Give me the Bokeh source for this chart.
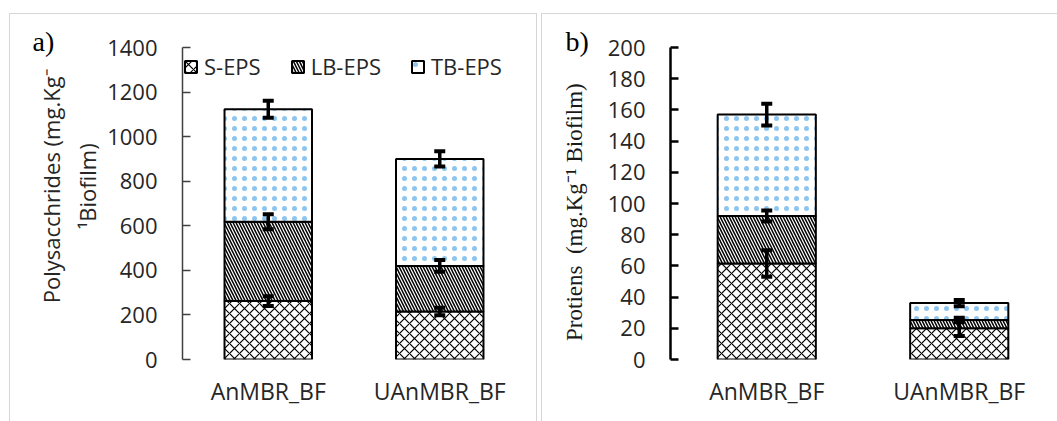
from bokeh.plotting import figure
from bokeh.layouts import row
from bokeh.models import (ColumnDataSource, Range1d, FactorRange, SingleIntervalTicker,
                          Whisker, TeeHead, Legend, LegendItem, Title)
from bokeh.embed import file_html
from bokeh.resources import INLINE

# ---------------- data ----------------
categories = ["AnMBR_BF", "UAnMBR_BF"]
series = ["S-EPS", "LB-EPS", "TB-EPS"]

# a) polysaccharides (stacked segments)
poly_s = [262, 215]
poly_lb = [356, 205]
poly_tb = [505, 480]
poly_s_err = [22, 17]
poly_lb_err = [34, 26]
poly_tb_err = [38, 34]
poly_ticks = [0, 200, 400, 600, 800, 1000, 1200, 1400]

# b) proteins (stacked segments)
prot_s = [61.5, 20]
prot_lb = [30.5, 5.3]
prot_tb = [65, 10.9]
prot_s_err = [8.5, 5]
prot_lb_err = [3.5, 1.5]
prot_tb_err = [7, 2]
prot_ticks = [0, 20, 40, 60, 80, 100, 120, 140, 160, 180, 200]

SANS = "Open Sans"
SERIF = "Liberation Serif"
TXT = "#262626"
NB = "\u00a0"

HATCH = ["x", "\\", "."]
HATCH_COLOR = ["black", "black", "#2f95e0"]
HATCH_SCALE = [10, 6, 10]
HATCH_WEIGHT = [1.2, 1.5, 0.8]
HATCH_ALPHA = [1.0, 1.0, 0.55]


def make_panel(s, lb, tb, es, elb, etb, ticks, width, height, border_left, border_right,
               border_top, bar_w, axis_color, axis_w):
    p = figure(x_range=FactorRange(*categories), y_range=Range1d(ticks[0], ticks[-1]),
               width=width, height=height, output_backend="svg", toolbar_location=None,
               min_border_left=border_left, min_border_right=border_right,
               min_border_top=border_top, min_border_bottom=62)
    p.border_fill_color = None
    p.background_fill_color = "white"
    p.outline_line_color = None
    p.grid.visible = False

    src = ColumnDataSource(dict(cat=categories, **{series[0]: s, series[1]: lb, series[2]: tb}))
    rs = p.vbar_stack(series, x="cat", width=bar_w, source=src, fill_color="white",
                      line_color="black", line_width=2,
                      hatch_pattern=HATCH, hatch_color=HATCH_COLOR,
                      hatch_scale=HATCH_SCALE, hatch_weight=HATCH_WEIGHT,
                      hatch_alpha=HATCH_ALPHA)

    top1 = list(s)
    top2 = [a + b for a, b in zip(s, lb)]
    top3 = [a + b + c for a, b, c in zip(s, lb, tb)]
    for tops, errs in ((top1, es), (top2, elb), (top3, etb)):
        wsrc = ColumnDataSource(dict(base=categories,
                                     upper=[t + e for t, e in zip(tops, errs)],
                                     lower=[t - e for t, e in zip(tops, errs)]))
        w = Whisker(source=wsrc, base="base", upper="upper", lower="lower",
                    dimension="height", line_color="black", line_width=3.5, level="overlay",
                    upper_head=TeeHead(size=11, line_width=4, line_color="black"),
                    lower_head=TeeHead(size=11, line_width=4, line_color="black"))
        p.add_layout(w)

    p.xaxis.axis_line_color = None
    p.xaxis.major_tick_line_color = None
    p.xaxis.minor_tick_line_color = None
    p.xaxis.major_label_text_font = SANS
    p.xaxis.major_label_text_font_size = "23px"
    p.xaxis.major_label_text_color = TXT
    p.xaxis.major_label_standoff = 9

    p.yaxis.ticker = SingleIntervalTicker(interval=ticks[1] - ticks[0], num_minor_ticks=0)
    p.yaxis.axis_line_color = axis_color
    p.yaxis.axis_line_width = axis_w
    p.yaxis.major_tick_line_color = axis_color
    p.yaxis.major_tick_line_width = axis_w
    p.yaxis.major_tick_in = 8
    p.yaxis.major_tick_out = 0
    p.yaxis.minor_tick_line_color = None
    p.yaxis.major_label_text_font = SANS
    p.yaxis.major_label_text_font_size = "22px"
    p.yaxis.major_label_text_color = TXT
    p.yaxis.major_label_standoff = 25
    return p, rs


p1, rs1 = make_panel(poly_s, poly_lb, poly_tb, poly_s_err, poly_lb_err, poly_tb_err,
                     poly_ticks, 528, 408, 173, 12, 34, 0.51, "#404040", 1.5)
p2, rs2 = make_panel(prot_s, prot_lb, prot_tb, prot_s_err, prot_lb_err, prot_tb_err,
                     prot_ticks, 516, 408, 129, 2, 33, 0.51, "black", 2.5)

p1.margin = (13, 0, 0, 9)
p2.margin = (13, 0, 0, 4)
p1.styles = {"box-shadow": "inset 1px 1px 0 0 #d6d6d6, inset -1px 0 0 0 #d6d6d6"}
p2.styles = {"box-shadow": "inset 1px 1px 0 0 #d6d6d6"}

# y-axis titles
p1.yaxis.axis_label = NB * 6 + "Polysacchrides (mg.Kg\u207b\n" + NB * 6 + "\u00b9Biofilm)"
p1.yaxis.axis_label_text_font = SANS
p1.yaxis.axis_label_text_font_style = "normal"
p1.yaxis.axis_label_text_font_size = "22px"
p1.yaxis.axis_label_text_color = TXT
p1.yaxis.axis_label_standoff = 2

p2.yaxis.axis_label = "Protiens" + NB * 2 + "(mg.Kg\u207b\u00b9 Biofilm)" + NB * 3
p2.yaxis.axis_label_text_font = SERIF
p2.yaxis.axis_label_text_font_style = "normal"
p2.yaxis.axis_label_text_font_size = "23px"
p2.yaxis.axis_label_text_color = "#1a1a1a"
p2.yaxis.axis_label_standoff = 18

legend = Legend(items=[LegendItem(label=series[i], renderers=[rs1[i]]) for i in range(3)],
                orientation="horizontal", location=(1, 278), padding=0, margin=0,
                spacing=29, glyph_width=15, glyph_height=15, label_standoff=6,
                label_height=30, label_text_font=SANS, label_text_font_size="22px",
                label_text_color=TXT, border_line_color=None, background_fill_alpha=0)
p1.add_layout(legend, "center")

# panel letters
p1.add_layout(Title(text="a)", align="left", offset=-150, vertical_align="bottom",
                    text_baseline="top", standoff=-19, text_font=SERIF,
                    text_font_size="28px", text_font_style="normal", text_color="black"),
              "above")
p2.add_layout(Title(text="b)", align="left", offset=-105, vertical_align="bottom",
                    text_baseline="top", standoff=-19, text_font=SERIF,
                    text_font_size="28px", text_font_style="normal", text_color="black"),
              "above")

layout = row(p1, p2)
open("out.html", "w").write(file_html(layout, INLINE))
